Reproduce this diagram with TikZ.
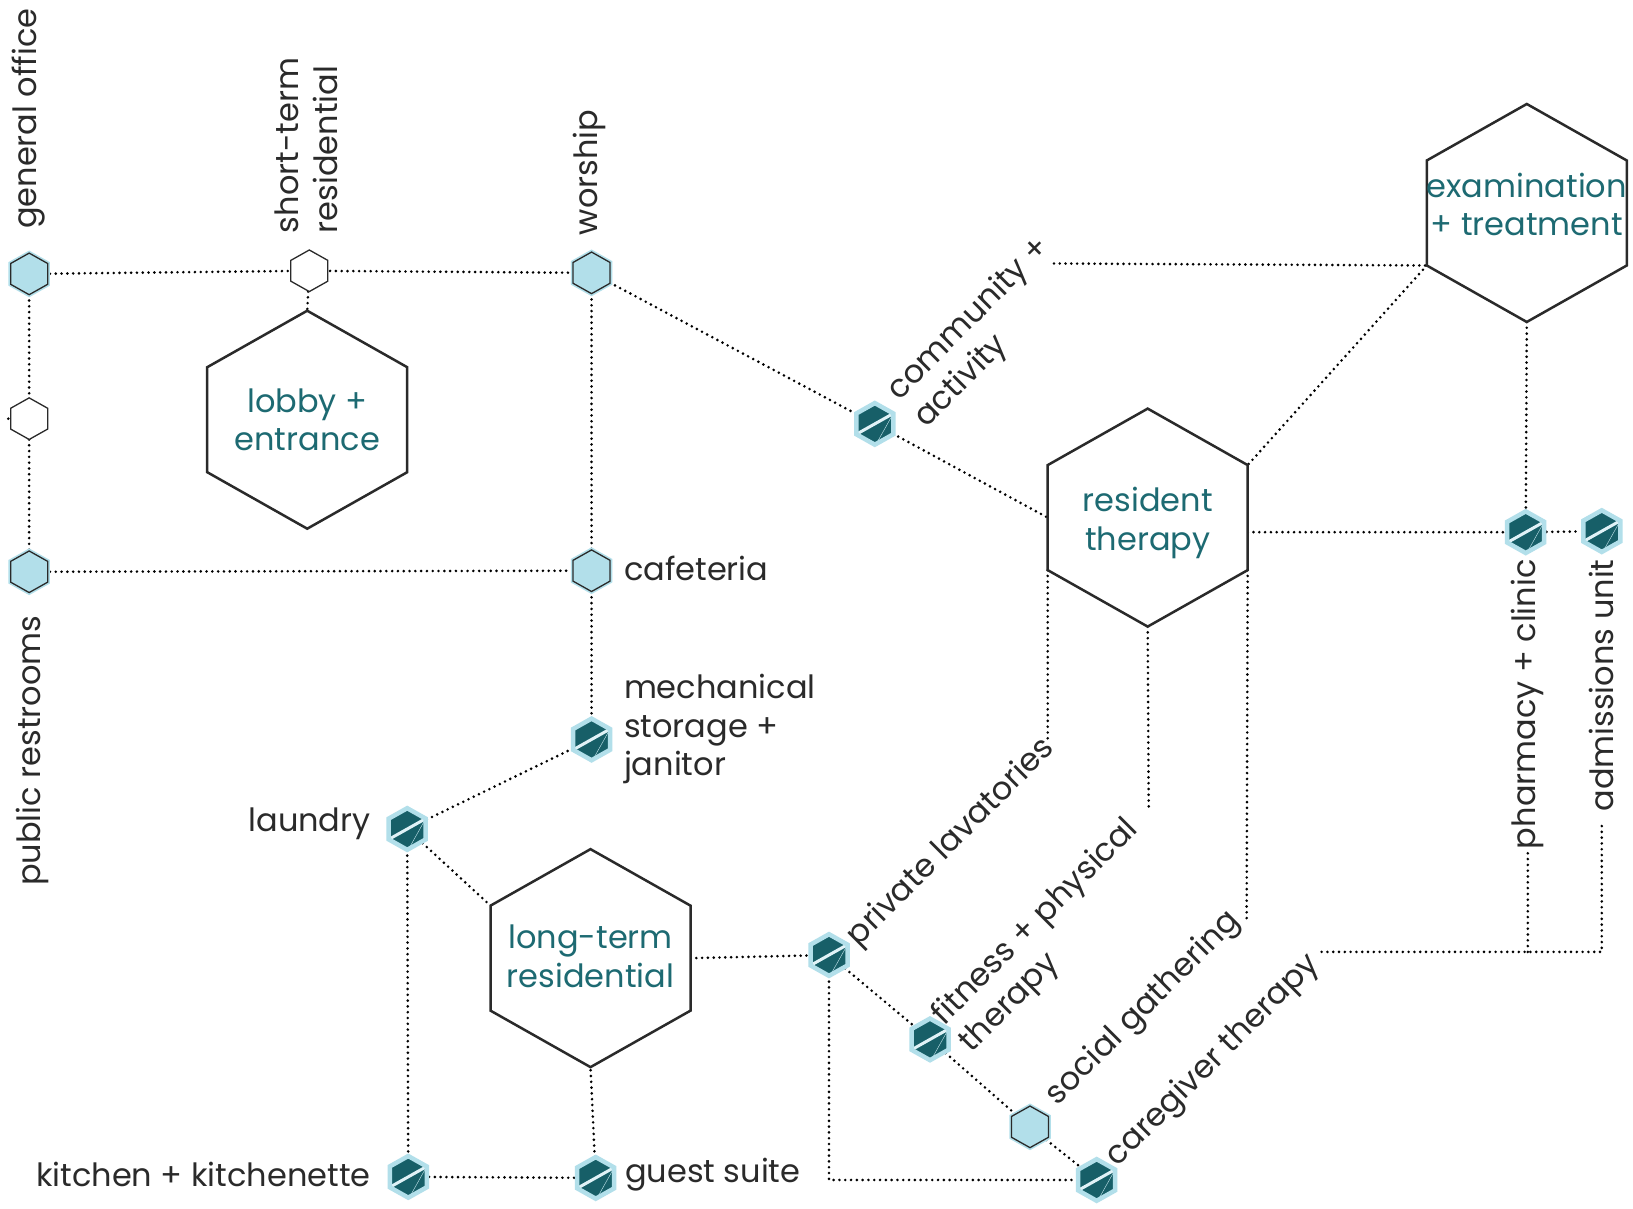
\documentclass[tikz,border=0pt]{standalone}
\usepackage{fontspec}
\setmainfont{Poppins}
\usetikzlibrary{calc}
\definecolor{teal1}{HTML}{175F68}
\definecolor{tealtext}{HTML}{1D6A72}
\definecolor{lblue}{HTML}{B2DFEA}
\definecolor{ink}{HTML}{2A2A2A}
\pgfdeclarelayer{bg}\pgfdeclarelayer{lines}\pgfsetlayers{bg,lines,main}
\newcommand\hexshape[5]{\path[#5] ($(#1)+(0pt,#4)$) -- ($(#1)+(#2,#3)$) -- ($(#1)+(#2,-#3)$) -- ($(#1)+(0pt,-#4)$) -- ($(#1)+(-#2,-#3)$) -- ($(#1)+(-#2,#3)$) -- cycle;}
\newcommand\smallhex[2]{\hexshape{#1}{18.5pt}{10.4pt}{20.8pt}{#2}}
\newcommand\lbhex[1]{\smallhex{#1}{fill=lblue}\smallhex{#1}{draw=lblue,line width=4.5pt}\smallhex{#1}{draw=ink,line width=1.3pt}}
\newcommand\whhex[1]{\smallhex{#1}{fill=white,draw=ink,line width=1.3pt}}
\newcommand\dkhex[1]{\smallhex{#1}{fill=teal1}\begin{scope}\smallhex{#1}{clip}\draw[lblue!70,line width=0.4pt] ($(#1)+(18.5pt,10.4pt)$) -- ($(#1)+(2pt,-19pt)$);\draw[lblue!40!white,line width=3pt] ($(#1)+(-18.5pt,-10.4pt)$) -- ($(#1)+(18.5pt,10.4pt)$);\end{scope}\smallhex{#1}{draw=lblue,line width=4.5pt}}
\newcommand\bighex[2]{\coordinate (#1) at (#2);
 \hexshape{#1}{100pt}{52.5pt}{109pt}{fill=white,draw=ink,line width=2.5pt}
 \coordinate (#1-n) at ($(#1)+(0pt,109pt)$);
 \coordinate (#1-ne) at ($(#1)+(100pt,52.5pt)$);
 \coordinate (#1-se) at ($(#1)+(100pt,-52.5pt)$);
 \coordinate (#1-s) at ($(#1)+(0pt,-109pt)$);
 \coordinate (#1-sw) at ($(#1)+(-100pt,-52.5pt)$);
 \coordinate (#1-nw) at ($(#1)+(-100pt,52.5pt)$);
 \coordinate (#1-e) at ($(#1)+(100pt,0pt)$);
 \coordinate (#1-w) at ($(#1)+(-100pt,0pt)$);}
\begin{document}
\begin{tikzpicture}[x=1.0415pt,y=-1.0415pt,
  hx/.style={circle,minimum size=41.6pt,inner sep=0pt,outer sep=0pt},
  dl/.style={line width=2.9pt,dash pattern=on 0pt off 5.8pt,line cap=round,black},
  lab/.style={font=\fontsize{32}{38.5}\selectfont,text=ink,inner sep=0pt},
  bigt/.style={font=\fontsize{32}{38.5}\selectfont,text=tealtext,align=center,inner sep=0pt}]
\begin{pgfonlayer}{bg}
\fill[white] (0,0) rectangle (1568,1160);
\end{pgfonlayer}
\useasboundingbox (0,0) rectangle (1568,1160);
% big hexagons
\bighex{lb}{295,403}
\bighex{ex}{1466,204.5}
\bighex{rt}{1102,497}
\bighex{lt}{567,920}
\node[bigt] (lbt) at (lb) {lobby +\\entrance};
\node[bigt] (ext) at ($(ex)+(0,-8)$) {examination\\+ treatment};
\node[bigt] (rtt) at ($(rt)+(0,5)$) {resident\\therapy};
\node[bigt] (ltt) at ($(lt)+(0,-2)$) {long-term\\residential};
% small hexagon nodes
\node[hx] (go) at (28,263) {};
\node[hx] (st) at (297,260) {};
\node[hx] (wo) at (568,262) {};
\node[hx] (wl) at (28,402) {};
\node[hx] (pr) at (28,549) {};
\node[hx] (ca) at (568,548) {};
\node[hx] (me) at (568,710) {};
\node[hx] (la) at (391,796) {};
\node[hx] (ki) at (392,1130) {};
\node[hx] (gs) at (572,1131) {};
\node[hx] (co) at (840,407) {};
\node[hx] (pl) at (796,917) {};
\node[hx] (fi) at (893,998) {};
\node[hx] (sg) at (989,1082) {};
\node[hx] (cg) at (1053,1133) {};
\node[hx] (ph) at (1465,511) {};
\node[hx] (ad) at (1538,510) {};
% labels
\node[lab,rotate=90,anchor=west] (gol) at (27,220) {general office};
\node[lab,rotate=90,anchor=west,align=left] (stl) at (294,224) {short-term\\residential};
\node[lab,rotate=90,anchor=west] (wol) at (566,226) {worship};
\node[lab,rotate=90,anchor=east] (prl) at (31,591) {public restrooms};
\node[lab,anchor=west] (cal) at (599,546) {cafeteria};
\node[lab,anchor=west,align=left] (mel) at (599,700) {mechanical\\storage +\\janitor};
\node[lab,anchor=east] (lal) at (356,791) {laundry};
\node[lab,anchor=east] (kil) at (356,1128) {kitchen + kitchenette};
\node[lab,anchor=west] (gsl) at (600,1128) {guest suite};
\node[lab,rotate=45,anchor=west,align=left] (col) at (871,393) {community +\\activity};
\node[lab,rotate=45,anchor=west] (pll) at (819,904) {private lavatories};
\node[lab,rotate=45,anchor=west,align=left] (fil) at (914,993) {fitness + physical\\therapy};
\node[lab,rotate=45,anchor=west] (sgl) at (1010,1057) {social gathering};
\node[lab,rotate=45,anchor=west] (cgl) at (1068,1116) {caregiver therapy};
\node[lab,rotate=90,anchor=east] (phl) at (1467,537) {pharmacy + clinic};
\node[lab,rotate=90,anchor=east] (adl) at (1538,537) {admissions unit};
% free ends
\coordinate (wlstub) at (4,402);
\coordinate (e1) at (1006,712);
\coordinate (e2) at (1103,778);
\coordinate (e3) at (1197,885);
\coordinate (e4) at (1269,914);
\coordinate (bus1) at (1467,914);
\coordinate (bus2) at (1538,914);
\coordinate (phe) at ($(phl.west)+(0,3)$);
\coordinate (ade) at ($(adl.west)+(0,12)$);
\coordinate (coe) at (1012,253);
% connectors
\begin{pgfonlayer}{lines}
\draw[dl] (go) -- (st);
\draw[dl] (st) -- (wo);
\draw[dl] (st) -- (lb-n);
\draw[dl] (go) -- (wl);
\draw[dl] (wl) -- (pr);
\draw[dl] (wl) -- (wlstub);
\draw[dl] (pr) -- (ca);
\draw[dl] (wo) -- (ca);
\draw[dl] (wo) -- (co);
\draw[dl] (co) -- (rt-w);
\draw[dl] (ca) -- (me);
\draw[dl] (me) -- (la);
\draw[dl] (la) -- (lt-nw);
\draw[dl] (la) -- (ki);
\draw[dl] (ki) -- (gs);
\draw[dl] (gs) -- (lt-s);
\draw[dl] (lt-e) -- (pl);
\draw[dl] (pl) -- (fi);
\draw[dl] (fi) -- (sg);
\draw[dl] (sg) -- (cg);
\draw[dl] (pl) |- (cg);
\draw[dl] (rt-sw) -- (e1);
\draw[dl] (rt-s) -- (e2);
\draw[dl] (rt-se) -- (e3);
\draw[dl] (e4) -- (bus1) -- (bus2) -- (ade);
\draw[dl] (bus1) -- (phe);
\draw[dl] (coe) -- (ex-sw);
\draw[dl] (ex-sw) -- (rt-ne);
\draw[dl] (ex-s) -- (ph);
\draw[dl] (ph -| rt-ne) -- (ph);
\draw[dl] (ph) -- (ad);
\end{pgfonlayer}
% small hexagon shapes
\lbhex{go}
\whhex{st}
\lbhex{wo}
\whhex{wl}
\lbhex{pr}
\lbhex{ca}
\dkhex{me}
\dkhex{la}
\dkhex{ki}
\dkhex{gs}
\dkhex{co}
\dkhex{pl}
\dkhex{fi}
\lbhex{sg}
\dkhex{cg}
\dkhex{ph}
\dkhex{ad}
\end{tikzpicture}
\end{document}
